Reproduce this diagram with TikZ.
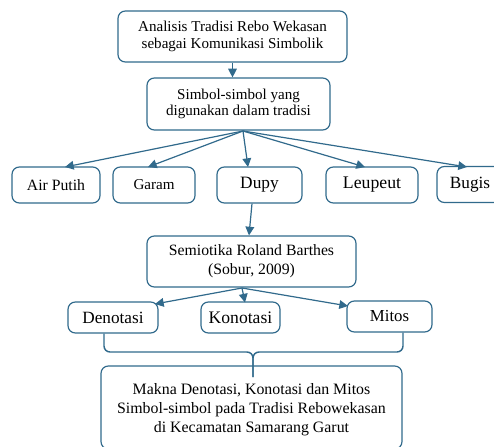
\documentclass[tikz,border=0pt]{standalone}
\usepackage{fontspec}
\setmainfont{Liberation Serif}
\usetikzlibrary{arrows.meta,calc}
\definecolor{bord}{RGB}{49,106,140}
\tikzset{
  box/.style={draw=bord, line width=0.9pt, rounded corners=5.5pt, align=center, inner sep=0pt, fill=white},
  conn/.style={draw=bord, line width=0.9pt, -{Triangle[length=6.5pt,width=6.5pt]}},
  brace/.style={draw=bord, line width=1.1pt, rounded corners=4.5pt},
  fs/.style={font=\fontsize{#1}{#1*1.1}\selectfont}
}
\begin{document}
\begin{tikzpicture}[x=0.75pt,y=-0.75pt]
\clip (0,0) rectangle (494,447);
\fill[white] (0,0) rectangle (494,447);
% top
\node[box, minimum width=171.75pt, minimum height=38.25pt, font=\fontsize{11.3}{12.75}\selectfont] (top) at (232.5,36.5) {Analisis Tradisi Rebo Wekasan\\sebagai Komunikasi Simbolik};
\node[box, minimum width=137.25pt, minimum height=39pt, font=\fontsize{11.3}{12}\selectfont] (sym) at (238.5,104) {Simbol-simbol yang\\digunakan dalam tradisi};
% row of symbols
\node[box, minimum width=66pt, minimum height=27pt, font=\fontsize{11.8}{13}\selectfont] (air) at (56,185) {Air Putih};
\node[box, minimum width=61.5pt, minimum height=27pt, font=\fontsize{11.3}{13}\selectfont] (garam) at (154,185) {Garam};
\node[box, minimum width=63.75pt, minimum height=27pt, font=\fontsize{13}{14}\selectfont] (dupy) at (259.5,185) {Dupy};
\node[box, minimum width=69pt, minimum height=27pt, font=\fontsize{13.3}{14}\selectfont] (leupeut) at (372,185) {Leupeut};
\node[box, minimum width=49.5pt, minimum height=27pt, font=\fontsize{12.9}{14}\selectfont] (bugis) at (470,184.5) {Bugis};
% semiotika
\node[box, minimum width=156.75pt, minimum height=38.25pt, font=\fontsize{11.8}{14.25}\selectfont] (sem) at (251.5,261.5) {Semiotika Roland Barthes\\(Sobur, 2009)};
\node[box, minimum width=67.5pt, minimum height=23.25pt, font=\fontsize{12.9}{14}\selectfont] (deno) at (113,317.5) {Denotasi};
\node[box, minimum width=59.25pt, minimum height=23.25pt, font=\fontsize{13.2}{14}\selectfont] (kono) at (240.5,317.5) {Konotasi};
\node[box, minimum width=63.75pt, minimum height=23.25pt, font=\fontsize{12.6}{14}\selectfont] (mitos) at (389.5,316.5) {Mitos};
% bottom
\node[box, minimum width=225.75pt, minimum height=62.25pt, font=\fontsize{11.9}{14.25}\selectfont, text depth=0pt] (makna) at (251.5,407.5) {};
\node[align=center, font=\fontsize{11.9}{14.25}\selectfont] (maknatext) at (251.5,410) {Makna Denotasi, Konotasi dan Mitos\\Simbol-simbol pada Tradisi Rebowekasan\\di Kecamatan Samarang Garut};
% connectors
\path[conn] (top.south) -- (top.south |- sym.north);
\coordinate (fan) at (243,131);
\coordinate (tair) at (65,167);
\coordinate (tgar) at (148,167);
\coordinate (tdup) at (248,167);
\coordinate (tleu) at (365,167);
\coordinate (tbug) at (467,167);
\path[conn] (fan) -- (tair);
\path[conn] (fan) -- (tgar);
\path[conn] (fan) -- (tdup);
\path[conn] (fan) -- (tleu);
\path[conn] (fan) -- (tbug);
\path[conn] ($(dupy.south)+(-7.5,0)$) -- ($(sem.north)+(-2.5,0)$);
\coordinate (fan2) at (242,288);
\path[conn] (fan2) -- (155,304);
\path[conn] (fan2) -- (245,302.5);
\path[conn] (fan2) -- (348,306);
% brace
\coordinate (bmid) at (253,352);
\path[brace] ($(deno.south)+(-9,0)$) |- (bmid) -- (253,377);
\path[brace] ($(mitos.south)+(13.5,0)$) |- (bmid) -- (253,377);
\end{tikzpicture}
\end{document}
